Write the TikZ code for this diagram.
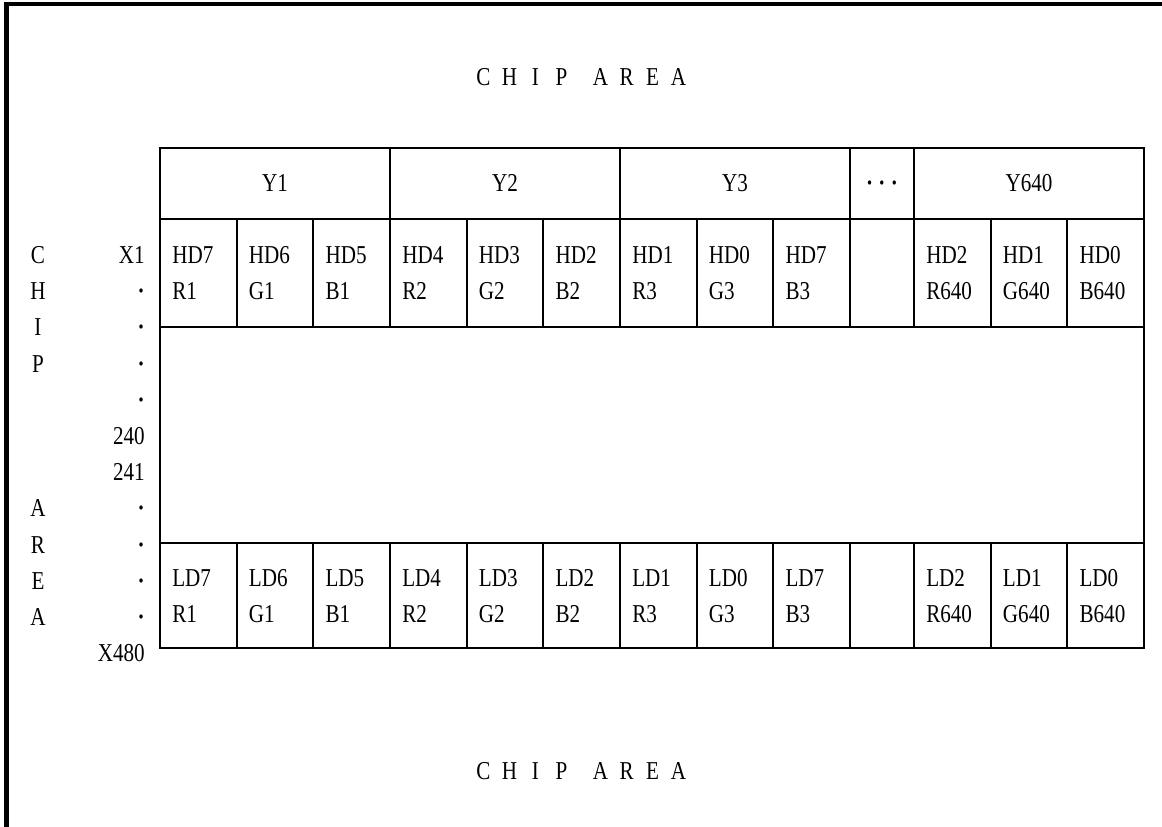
\documentclass[tikz,border=0pt]{standalone}
\usepackage{fontspec}
\setmainfont{Liberation Serif}[FakeStretch=0.82]
\newcommand{\spc}[1]{\makebox[0.65cm]{#1}}
\newcommand{\pdot}{\textbf{·}}
\tikzset{
  lbl/.style={inner sep=0pt, anchor=base, font=\fontsize{18.3}{22}\selectfont},
  celltxt/.style={lbl, anchor=base west},
  grid/.style={line width=1.5pt},
}
\begin{document}
\begin{tikzpicture}[x=0.025cm,y=-0.025cm]
  \useasboundingbox (0,0) rectangle (1162,827);
  % outer frame
  \draw[line width=2.9pt] (6.5,827) -- (6.5,4) -- (1162,4);
  % table
  \draw[grid] (160,148) rectangle (1144,648);
  \draw[grid] (160,218.7) -- (1144,218.7);
  \draw[grid] (160,326.7) -- (1144,326.7);
  \draw[grid] (160,542.7) -- (1144,542.7);
  \foreach \x in {390,620,850,914}
    \draw[grid] (\x,148) -- (\x,218.7);
  \foreach \x in {236.7,313.3,390,466.7,543.3,620,696.7,773.3,850,914,990.7,1067.3} {
    \draw[grid] (\x,218.7) -- (\x,326.7);
    \draw[grid] (\x,542.7) -- (\x,648);
  }
  % chip area
  \node[lbl] (top) at (581,85.5) {\spc{C}\spc{H}\spc{I}\spc{P}\hspace{0.33cm}\spc{A}\spc{R}\spc{E}\spc{A}};
  \node[lbl] (bot) at (581,779.5) {\spc{C}\spc{H}\spc{I}\spc{P}\hspace{0.33cm}\spc{A}\spc{R}\spc{E}\spc{A}};
  % column heads
  \node[lbl] (y1) at (275,191.5) {Y1};
  \node[lbl] (y2) at (505,191.5) {Y2};
  \node[lbl] (y3) at (735,191.5) {Y3};
  \node[lbl] (yd) at (882,191.5) {\pdot\ \pdot\ \pdot};
  \node[lbl] (y640) at (1029,191.5) {Y640};
  % cells
  \foreach \x/\a/\b [count=\i] in {160/7/R1, 236.7/6/G1, 313.3/5/B1, 390/4/R2, 466.7/3/G2,
      543.3/2/B2, 620/1/R3, 696.7/0/G3, 773.3/7/B3, 914/2/R640, 990.7/1/G640, 1067.3/0/B640} {
    \node[celltxt] (hd\i) at (\x+12,263.5) {HD\a};
    \node[celltxt] (hc\i) at (\x+12,299.5) {\b};
    \node[celltxt] (ld\i) at (\x+12,586.5) {LD\a};
    \node[celltxt] (lc\i) at (\x+12,622.5) {\b};
  }
  % row labels
  \foreach \t [count=\k from 0] in {X1,\pdot,\pdot,\pdot,\pdot,240,241,\pdot,\pdot,\pdot,\pdot,X480}
    \node[lbl, anchor=base east] (x\k) at (145,263.5+36.2*\k) {\t};
  \foreach \t/\k in {C/0,H/1,I/2,P/3,A/7,R/8,E/9,A/10}
    \node[lbl] (c\k) at (38,263.5+36.2*\k) {\t};
\end{tikzpicture}
\end{document}
